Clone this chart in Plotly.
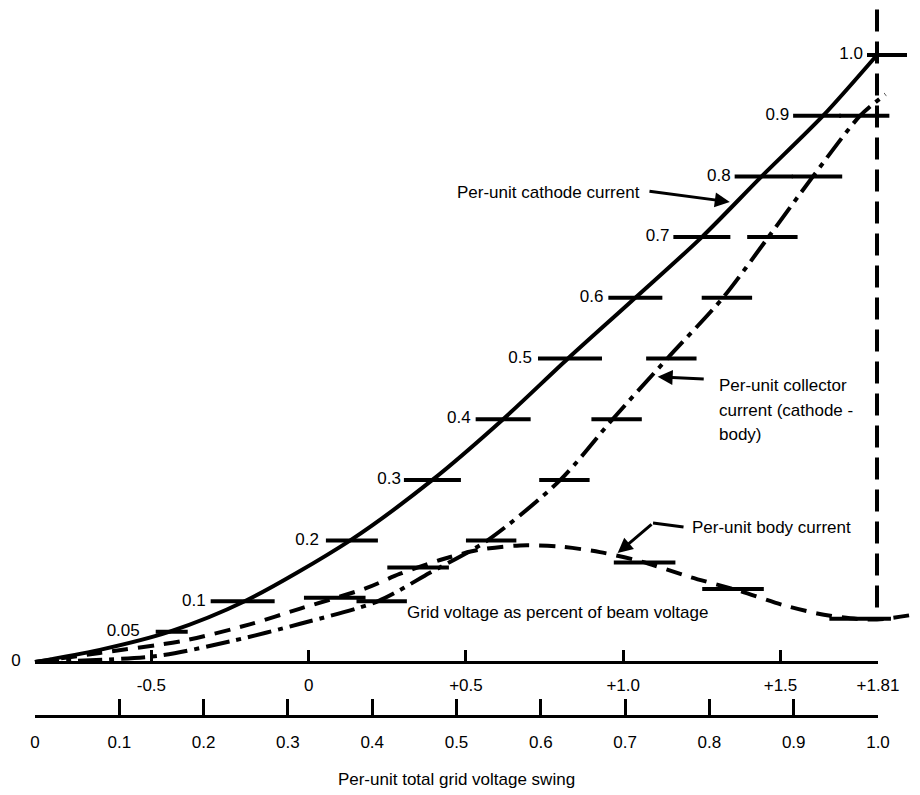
import numpy as np
import plotly.graph_objects as go

# lower scale: per-unit total grid voltage swing
swing_ticks = [0, 0.1, 0.2, 0.3, 0.4, 0.5, 0.6, 0.7, 0.8, 0.9, 1.0]
swing_labels = ["0", "0.1", "0.2", "0.3", "0.4", "0.5", "0.6", "0.7", "0.8", "0.9", "1.0"]

# upper scale: grid voltage as percent of beam voltage
grid_ticks = [-0.5, 0, 0.5, 1.0, 1.5, 1.81]
grid_labels = ["-0.5", "0", "+0.5", "+1.0", "+1.5", "+1.81"]

# per-unit cathode current (solid)
cathode_swing = [0, 0.077, 0.160, 0.249, 0.374, 0.472, 0.556, 0.633, 0.713, 0.792, 0.863, 0.936, 1.0]
cathode_current = [0, 0.02, 0.05, 0.1, 0.2, 0.3, 0.4, 0.5, 0.6, 0.7, 0.8, 0.9, 1.0]

# per-unit collector current = cathode - body (dash-dot)
collector_swing = [0, 0.145, 0.235, 0.315, 0.407, 0.469, 0.537, 0.624, 0.686, 0.751, 0.817, 0.871, 0.924, 0.980, 1.01]
collector_current = [0, 0.01, 0.035, 0.063, 0.1, 0.147, 0.2, 0.3, 0.4, 0.5, 0.6, 0.7, 0.8, 0.9, 0.935]

# per-unit body current (dashed)
body_swing = [0, 0.077, 0.176, 0.255, 0.315, 0.394, 0.433, 0.481, 0.528, 0.576, 0.624, 0.671,
              0.719, 0.778, 0.837, 0.888, 0.929, 0.968, 1.0, 1.048]
body_current = [0, 0.015, 0.035, 0.062, 0.088, 0.122, 0.145, 0.168, 0.185, 0.192, 0.19, 0.181,
                0.166, 0.140, 0.117, 0.094, 0.080, 0.072, 0.07, 0.079]

# levels marked on the curves
cathode_levels = [0.05, 0.1, 0.2, 0.3, 0.4, 0.5, 0.6, 0.7, 0.8, 0.9, 1.0]
cathode_level_labels = ["0.05", "0.1", "0.2", "0.3", "0.4", "0.5", "0.6", "0.7", "0.8", "0.9", "1.0"]
collector_levels = [0.1, 0.2, 0.3, 0.4, 0.5, 0.6, 0.7, 0.8, 0.9]
body_mark_swing = [0.356, 0.455, 0.724, 0.829, 0.980]

FONT = "Liberation Sans"
PX = 842.0  # pixels per unit of swing

cath_x = np.interp(cathode_levels, cathode_current, cathode_swing)
coll_x = np.interp(collector_levels, collector_current, collector_swing)
body_y = np.interp(body_mark_swing, body_swing, body_current)

# length (px) of each horizontal level mark on the cathode curve, and its shift off the crossing
cath_len = np.array([32, 64, 52, 57, 55, 64, 54, 57, 58, 48, 40])
cath_shift = np.array([2, -2, 2, 0, 0, 2, 0, 0, 2, -6, 10])
gap = np.array([16, 5, 7, 3, 5, 6, 5, 4, 4, 4, 4])

fig = go.Figure()

#curves
fig.add_trace(go.Scatter(x=cathode_swing, y=cathode_current, mode="lines",
                         line=dict(color="black", width=4, shape="spline", smoothing=0.8)))
fig.add_trace(go.Scatter(x=collector_swing, y=collector_current, mode="lines",
                         line=dict(color="black", width=4, shape="spline", smoothing=0.8,
                                   dash="24px,7px,5px,7px")))
fig.add_trace(go.Scatter(x=body_swing, y=body_current, mode="lines",
                         line=dict(color="black", width=4, shape="spline", smoothing=0.8,
                                   dash="16px,10px")))

#vertical line at full swing
fig.add_trace(go.Scatter(x=[swing_ticks[-1], swing_ticks[-1]], y=[1.075, body_current[-2]], mode="lines",
                         line=dict(color="black", width=4, dash="22px,10px")))

#horizontal level marks on the cathode curve, drawn as short segments
left = cath_x + (cath_shift - cath_len / 2) / PX
right = cath_x + (cath_shift + cath_len / 2) / PX
seg_x, seg_y = [], []
for a, b, lv in zip(left, right, cathode_levels):
    seg_x += [a, b, None]
    seg_y += [lv, lv, None]
fig.add_trace(go.Scatter(x=seg_x, y=seg_y, mode="lines", line=dict(color="black", width=4)))

#marks on collector and body curves (line-ew length is 1.4 x size)
fig.add_trace(go.Scatter(x=coll_x + 4 / PX, y=collector_levels, mode="markers",
                         marker=dict(symbol="line-ew", size=36, line=dict(color="black", width=4))))
fig.add_trace(go.Scatter(x=body_mark_swing, y=body_y, mode="markers",
                         marker=dict(symbol="line-ew", size=44, line=dict(color="black", width=4))))

#level labels
lab_x = left - gap / PX
fig.add_trace(go.Scatter(x=list(lab_x) + [-0.017], y=cathode_levels + [0], mode="text",
                         text=cathode_level_labels + ["0"], textposition="middle left", cliponaxis=False,
                         textfont=dict(family=FONT, size=17, color="black")))

#dummy traces so the two scale axes get drawn
fig.add_trace(go.Scatter(x=swing_ticks, y=[0] * len(swing_ticks), xaxis="x2", mode="markers",
                         marker=dict(opacity=0), hoverinfo="skip"))
fig.add_trace(go.Scatter(x=grid_ticks, y=[0] * len(grid_ticks), xaxis="x3", mode="markers",
                         marker=dict(opacity=0), hoverinfo="skip"))

# arrows
def arrow(head, tail, head_style=2):
    fig.add_annotation(x=head[0], y=head[1], ax=tail[0], ay=tail[1], xref="x", yref="y",
                       axref="x", ayref="y", text="", showarrow=True, arrowhead=head_style,
                       arrowsize=1, arrowwidth=3, arrowcolor="black")

lvl = 0.758
arrow((np.interp(lvl, cathode_current, cathode_swing) - 0.008, lvl), (0.728, 0.776))
lvl = 0.47
arrow((np.interp(lvl, collector_current, collector_swing) + 0.008, lvl), (0.796, 0.466))
arrow((0.692, np.interp(0.692, body_swing, body_current) + 0.005), (0.734, 0.229))
arrow((0.734, 0.229), (0.772, 0.222), head_style=0)

def label(x, y, text, anchor="left"):
    fig.add_annotation(x=x, y=y, xref="x", yref="y", text=text, showarrow=False,
                       xanchor=anchor, yanchor="middle", font=dict(family=FONT, size=17, color="black"))

label(0.721, 0.773, "Per-unit cathode current", "right")
label(0.810, 0.456, "Per-unit collector")
label(0.810, 0.415, "current (cathode -")
label(0.810, 0.374, "body)")
label(0.778, 0.221, "Per-unit body current")
label(0.621, 0.081, "Grid voltage as percent of beam voltage", "center")

# page body has an 8px margin, so the figure is drawn 8px in from the window edge
W, H = 912, 787
scale_dom = [27 / W, 870 / W]
fig.update_layout(
    width=W, height=H,
    margin=dict(l=0, r=0, t=0, b=80),
    paper_bgcolor="white", plot_bgcolor="rgba(0,0,0,0)",
    showlegend=False,
    font=dict(family=FONT, size=17, color="black"),
    xaxis=dict(domain=[0, 1], range=[-27 / PX, 885 / PX], visible=False),
    yaxis=dict(domain=[0, 1], range=[-53 / 607, 654 / 607], visible=False),
    xaxis2=dict(domain=scale_dom, range=[0, 1], anchor="y", tickvals=swing_ticks, ticktext=swing_labels,
                ticks="inside", ticklen=16, tickwidth=3, tickcolor="black", showline=True, linewidth=3,
                linecolor="black", showgrid=False, zeroline=False, ticklabelstandoff=10,
                tickfont=dict(family=FONT, size=17), automargin=False,
                title=dict(text="Per-unit total grid voltage swing", standoff=22,
                           font=dict(family=FONT, size=17))),
    xaxis3=dict(domain=scale_dom, range=[-0.87, 1.81], anchor="free", position=53 / 707,
                tickvals=[-0.87] + grid_ticks, ticktext=[""] + grid_labels,
                ticks="inside", ticklen=11, tickwidth=3, tickcolor="black", showline=True, linewidth=3,
                linecolor="black", showgrid=False, zeroline=False, ticklabelstandoff=7,
                tickfont=dict(family=FONT, size=17), automargin=False),
)

fig.write_html("out.html")
